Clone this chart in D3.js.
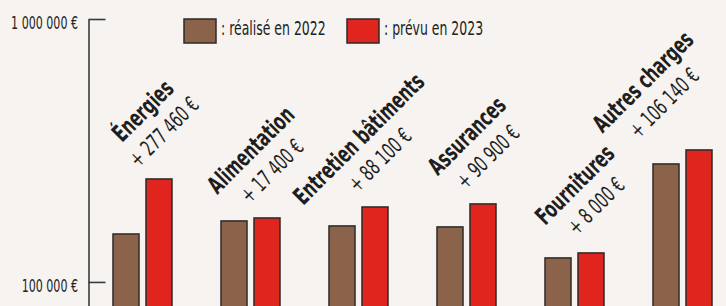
<!DOCTYPE html>
<html><head><meta charset="utf-8">
<script src="https://cdn.jsdelivr.net/npm/d3@7"></script>
<style>
html,body{margin:0;padding:0;background:#f6f3f0;}
svg{display:block;font-family:"DejaVu Sans Condensed","DejaVu Sans",sans-serif;font-stretch:condensed;}
</style></head>
<body>
<svg id="chart" width="726" height="306"></svg>
<script>
// ---- data ----
const categories = ["Énergies", "Alimentation", "Entretien bâtiments", "Assurances", "Fournitures", "Autres charges"];
const realise2022 = [152200, 170600, 163300, 161900, 123400, 281000];
const prevu2023   = [246400, 175100, 192800, 198000, 128900, 317700];
const increases   = ["+ 277 460 €", "+ 17 400 €", "+ 88 100 €", "+ 90 900 €", "+ 8 000 €", "+ 106 140 €"];
const seriesNames = [": réalisé en 2022", ": prévu en 2023"];
const tickValues  = [100000, 1000000];
const tickLabels  = ["100 000 €", "1 000 000 €"];

// ---- layout ----
const W = 726, H = 306;
const axisX = 88.5, plotTop = 19, plotBottom = H;
const colors = ["#8b634a", "#e0251f"];
const stroke = "#2c2a28";
const sxAxis = 0.685, sxLeg = 0.73, sxLab = 0.71;

const svg = d3.select("#chart");
svg.append("rect").attr("width", W).attr("height", H).attr("fill", "#f6f3f0");

const y = d3.scaleLog().domain([81000, 1000000]).range([plotBottom, plotTop]);
const x0 = d3.scaleBand().domain(categories).range([113, 712]).paddingInner(0.4537).paddingOuter(0);
const x1 = d3.scaleBand().domain([0, 1]).range([0, x0.bandwidth()]).paddingInner(0.2121).paddingOuter(0);

// axis
const axis = d3.axisLeft(y).tickValues(tickValues)
  .tickFormat((d) => tickLabels[tickValues.indexOf(d)])
  .tickSizeInner(-17).tickSizeOuter(0).tickPadding(15.3);
const gA = svg.append("g").attr("transform", `translate(${axisX},0)`).call(axis);
gA.attr("font-family", null);
gA.select(".domain").attr("stroke", "#3a3a3a").attr("stroke-width", 1.6);
gA.selectAll(".tick line").attr("stroke", "#3a3a3a").attr("stroke-width", 1.6);
gA.selectAll(".tick text")
  .attr("font-size", 18).attr("fill", "#222").attr("dy", "0.52em")
  .attr("transform", `scale(${sxAxis},1)`);

// bars
const data = categories.map((c, i) => ({c, vals: [realise2022[i], prevu2023[i]], inc: increases[i]}));
const groups = svg.append("g").selectAll("g").data(data).join("g")
  .attr("transform", (d) => `translate(${x0(d.c)},0)`);
groups.selectAll("rect").data((d) => d.vals.map((v, k) => ({v, k}))).join("rect")
  .attr("x", (d) => x1(d.k))
  .attr("y", (d) => y(d.v))
  .attr("width", x1.bandwidth())
  .attr("height", (d) => plotBottom - y(d.v) + 4)
  .attr("fill", (d) => colors[d.k])
  .attr("stroke", stroke).attr("stroke-width", 1.5);

// rotated labels
const labPos = (d, shift) => {
  const cx = x0(d.c) + x0.bandwidth() / 2 - shift;
  const cy = y(d3.max(d.vals)) - 68.5;
  return `translate(${cx},${cy}) rotate(-45) scale(${sxLab},1)`;
};
const labels = svg.append("g").selectAll("g").data(data).join("g")
  .attr("transform", (d) => labPos(d, 0));
labels.append("text")
  .attr("text-anchor", "middle").attr("font-weight", "bold").attr("font-size", 24)
  .attr("dy", "0.36em").attr("fill", "#1e1e1e")
  .text((d) => d.c);
labels.append("text")
  .attr("text-anchor", "middle").attr("font-size", 22)
  .attr("y", 30).attr("dy", "0.36em").attr("fill", "#1e1e1e")
  .text((d) => d.inc);
// keep labels inside the right edge
labels.each(function(d) {
  const r = this.getBoundingClientRect();
  const over = r.right - 719;
  if (over > 0) d3.select(this).attr("transform", labPos(d, over));
});

// legend
const legX = [184, 347];
const leg = svg.append("g").selectAll("g").data(seriesNames).join("g")
  .attr("transform", (d, i) => `translate(${legX[i]},19)`);
leg.append("rect").attr("width", 32).attr("height", 24)
  .attr("fill", (d, i) => colors[i]).attr("stroke", stroke).attr("stroke-width", 1.5);
leg.append("text")
  .attr("transform", `translate(37,16) scale(${sxLeg},1)`)
  .attr("font-size", 19).attr("fill", "#222")
  .text((d) => d);
</script>
</body></html>
